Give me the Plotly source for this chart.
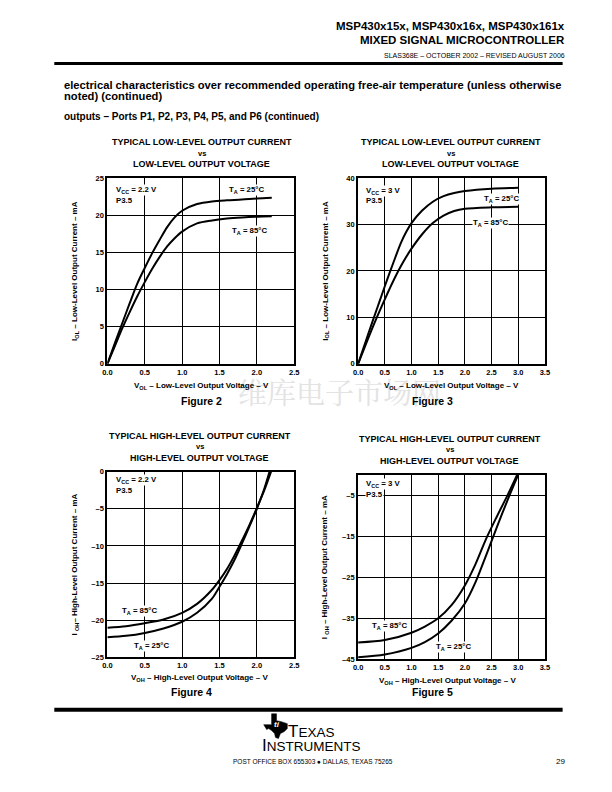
import plotly.graph_objects as go

# page is 612x792; browser body has an 8px margin, so the figure is drawn 16px smaller
OFF = 8
FW, FH = 612 - 2 * OFF, 792 - 2 * OFF

# ---------------- data ----------------
# Figure 2: VCC = 2.2 V, low-level output
f2_v_25 = [0, 0.1, 0.2, 0.3, 0.4, 0.5, 0.6, 0.7, 0.8, 0.9, 1.0, 1.2, 1.4, 1.6, 1.8, 2.0, 2.2]
f2_i_25 = [0, 2.8, 5.5, 8.2, 10.8, 12.9, 14.9, 16.7, 18.4, 19.7, 20.6, 21.5, 21.85, 22.0, 22.1, 22.25, 22.35]
f2_v_85 = [0, 0.1, 0.2, 0.3, 0.4, 0.5, 0.6, 0.7, 0.8, 0.9, 1.0, 1.2, 1.4, 1.6, 1.8, 2.0, 2.2]
f2_i_85 = [0, 2.4, 4.8, 7.0, 9.1, 11.0, 12.8, 14.4, 15.8, 16.9, 17.8, 18.9, 19.3, 19.55, 19.7, 19.8, 19.85]

# Figure 3: VCC = 3 V, low-level output
f3_v_25 = [0, 0.1, 0.2, 0.3, 0.4, 0.5, 0.6, 0.7, 0.8, 0.9, 1.0, 1.2, 1.4, 1.6, 1.8, 2.0, 2.5, 3.0]
f3_i_25 = [0, 3.4, 6.8, 10.1, 13.4, 16.7, 19.9, 23.0, 26.0, 28.4, 30.3, 33.0, 34.9, 36.1, 36.8, 37.2, 37.7, 37.9]
f3_v_85 = [0, 0.1, 0.2, 0.3, 0.4, 0.5, 0.6, 0.7, 0.8, 0.9, 1.0, 1.2, 1.4, 1.6, 1.8, 2.0, 2.5, 3.0]
f3_i_85 = [0, 2.9, 5.8, 8.6, 11.3, 13.9, 16.4, 18.8, 21.0, 23.0, 24.8, 27.9, 30.3, 31.9, 32.9, 33.4, 33.7, 33.8]

# Figure 4: VCC = 2.2 V, high-level output
f4_v_85 = [0, 0.25, 0.5, 0.75, 1.0, 1.2, 1.4, 1.5, 1.6, 1.7, 1.8, 1.9, 2.0, 2.1, 2.19]
f4_i_85 = [-21.0, -20.8, -20.4, -19.9, -19.0, -17.8, -15.9, -14.6, -13.1, -11.3, -9.3, -7.2, -4.9, -2.5, 0]
f4_v_25 = [0, 0.25, 0.5, 0.75, 1.0, 1.2, 1.4, 1.5, 1.6, 1.7, 1.8, 1.9, 2.0, 2.1, 2.17]
f4_i_25 = [-22.3, -22.1, -21.7, -21.1, -20.2, -19.0, -17.1, -15.5, -13.8, -11.9, -9.7, -7.4, -5.0, -2.3, 0]

# Figure 5: VCC = 3 V, high-level output
f5_v_85 = [0, 0.5, 1.0, 1.25, 1.5, 1.75, 2.0, 2.2, 2.4, 2.6, 2.8, 2.98]
f5_i_85 = [-40.9, -40.3, -38.5, -37.0, -35.0, -31.8, -27.0, -21.8, -15.6, -10.2, -5.0, 0]
f5_v_25 = [0, 0.5, 1.0, 1.25, 1.5, 1.75, 2.0, 2.2, 2.4, 2.6, 2.8, 3.0]
f5_i_25 = [-44.5, -43.8, -42.2, -40.8, -38.7, -35.6, -31.4, -26.2, -19.6, -12.8, -6.2, 0]

x_ticks_25 = [0, 0.5, 1.0, 1.5, 2.0, 2.5]
x_ticks_35 = [0, 0.5, 1.0, 1.5, 2.0, 2.5, 3.0, 3.5]
y_ticks_f2 = [0, 5, 10, 15, 20, 25]
y_ticks_f3 = [0, 10, 20, 30, 40]
y_ticks_f4 = [0, -5, -10, -15, -20, -25]
y_ticks_f5 = [-5, -15, -25, -35, -45]


def dash_label(v):
    return ("–" + str(abs(v))) if v < 0 else str(v)


# ---------------- helpers (page pixels -> paper fraction) ----------------
def px(x):
    return (x - OFF) / FW


def py(y):
    return 1 - (y - OFF) / FH


FONT = "Liberation Sans, Arial, sans-serif"

fig = go.Figure()

curves = [
    (f2_v_25, f2_i_25, "x", "y"), (f2_v_85, f2_i_85, "x", "y"),
    (f3_v_25, f3_i_25, "x2", "y2"), (f3_v_85, f3_i_85, "x2", "y2"),
    (f4_v_85, f4_i_85, "x3", "y3"), (f4_v_25, f4_i_25, "x3", "y3"),
    (f5_v_85, f5_i_85, "x4", "y4"), (f5_v_25, f5_i_25, "x4", "y4"),
]
for xs, ys, xa, ya in curves:
    fig.add_trace(go.Scatter(x=xs, y=ys, xaxis=xa, yaxis=ya, mode="lines",
                             line=dict(color="black", width=2, shape="spline", smoothing=0.8),
                             hoverinfo="skip", showlegend=False))

axis_common = dict(showgrid=True, gridcolor="black", gridwidth=1.2, showline=True,
                   linecolor="black", linewidth=2, mirror=True, ticks="",
                   zeroline=False, tickfont=dict(family=FONT, size=7.5, color="black", weight="bold"),
                   fixedrange=True)

dom_x_left = [px(104), px(294)]
dom_x_right = [px(359), px(549)]

layout_axes = dict(
    xaxis=dict(domain=dom_x_left, range=[0, 2.5], tickvals=x_ticks_25,
               ticktext=[f"{v:.1f}" for v in x_ticks_25], anchor="y", **axis_common),
    yaxis=dict(domain=[py(364), py(176)], range=[0, 25], tickvals=y_ticks_f2,
               ticktext=[dash_label(v) for v in y_ticks_f2], anchor="x", **axis_common),
    xaxis2=dict(domain=dom_x_right, range=[0, 3.5], tickvals=x_ticks_35,
                ticktext=[f"{v:.1f}" for v in x_ticks_35], anchor="y2", **axis_common),
    yaxis2=dict(domain=[py(364), py(176)], range=[0, 40], tickvals=y_ticks_f3,
                ticktext=[dash_label(v) for v in y_ticks_f3], anchor="x2", **axis_common),
    xaxis3=dict(domain=dom_x_left, range=[0, 2.5], tickvals=x_ticks_25,
                ticktext=[f"{v:.1f}" for v in x_ticks_25], anchor="y3", **axis_common),
    yaxis3=dict(domain=[py(661), py(473)], range=[-25, 0], tickvals=y_ticks_f4,
                ticktext=[dash_label(v) for v in y_ticks_f4], anchor="x3", **axis_common),
    xaxis4=dict(domain=dom_x_right, range=[0, 3.5], tickvals=x_ticks_35,
                ticktext=[f"{v:.1f}" for v in x_ticks_35], anchor="y4", **axis_common),
    yaxis4=dict(domain=[py(663), py(476)], range=[-45, 0], tickvals=y_ticks_f5,
                ticktext=[dash_label(v) for v in y_ticks_f5], anchor="x4", **axis_common),
)

annotations = []
PAD = 3  # annotation inner padding compensation


def text(x, y, s, size=7, bold=True, xanchor="center", yanchor="middle", angle=0,
         color="black", bg=None, family=FONT, align="center"):
    if xanchor == "left":
        x -= PAD
    elif xanchor == "right":
        x += PAD
    a = dict(x=px(x), y=py(y), xref="paper", yref="paper", text=s, showarrow=False,
             xanchor=xanchor, yanchor=yanchor, textangle=angle, align=align,
             font=dict(family=family, size=size, color=color, weight="bold" if bold else "normal"),
             borderpad=0)
    if bg:
        a["bgcolor"] = bg
    annotations.append(a)


# watermark
text(340, 392, "维库电子市场网", size=29, bold=False, color="#e3e3e3",
     family="Noto Serif CJK SC, Noto Sans CJK SC, sans-serif")

# header
text(567, 22, "MSP430x15x, MSP430x16x, MSP430x161x", size=11.5, xanchor="right")
text(567, 36, "MIXED SIGNAL MICROCONTROLLER", size=11.5, xanchor="right")
text(567, 52, "SLAS368E – OCTOBER 2002 – REVISED AUGUST 2006", size=7, bold=False, xanchor="right")
text(62, 82, "electrical characteristics over recommended operating free-air temperature (unless otherwise",
     size=11.2, xanchor="left")
text(62, 93, "noted) (continued)", size=11.2, xanchor="left")
text(62, 114, "outputs – Ports P1, P2, P3, P4, P5, and P6 (continued)", size=10, xanchor="left")

# chart titles
for cx, ys, t1, t2 in [(200, (140, 151, 162), "TYPICAL LOW-LEVEL OUTPUT CURRENT", "LOW-LEVEL OUTPUT VOLTAGE"),
                       (453, (140, 151, 162), "TYPICAL LOW-LEVEL OUTPUT CURRENT", "LOW-LEVEL OUTPUT VOLTAGE"),
                       (198, (437, 448, 459), "TYPICAL HIGH-LEVEL OUTPUT CURRENT", "HIGH-LEVEL OUTPUT VOLTAGE"),
                       (452, (440, 451, 462), "TYPICAL HIGH-LEVEL OUTPUT CURRENT", "HIGH-LEVEL OUTPUT VOLTAGE")]:
    text(cx, ys[0], t1, size=9)
    text(cx, ys[1], "vs", size=7.5)
    text(cx, ys[2], t2, size=9)

# axis titles
text(200, 386, "V<sub>OL</sub> – Low-Level Output Voltage – V", size=8)
text(454, 386, "V<sub>OL</sub> – Low-Level Output Voltage – V", size=8)
text(198, 682, "V<sub>OH</sub> – High-Level Output Voltage – V", size=8)
text(450, 685, "V<sub>OH</sub> – High-Level Output Voltage – V", size=8)

text(71, 270, "I<sub>OL</sub> – Low-Level Output Current – mA", size=8, angle=-90)
text(326, 270, "I<sub>OL</sub> – Low-Level Output Current – mA", size=8, angle=-90)
text(71, 567, "I <sub>OH</sub>– High-Level Output Current – mA", size=8, angle=-90)
text(326, 570, "I <sub>OH</sub> – High-Level Output Current – mA", size=8, angle=-90)

# figure captions
text(200, 402, "Figure 2", size=10.5)
text(435, 402, "Figure 3", size=10.5)
text(190, 696, "Figure 4", size=10.5)
text(435, 696, "Figure 5", size=10.5)

# in-plot labels
W_BG = "white"
LS = 7.8
text(115, 188, "V<sub>CC</sub> = 2.2 V", size=LS, xanchor="left", bg=W_BG)
text(115, 199, "P3.5", size=LS, xanchor="left", bg=W_BG)
text(230, 188, "T<sub>A</sub> = 25°C", size=LS, xanchor="left", bg=W_BG)
text(233, 230, "T<sub>A</sub> = 85°C", size=LS, xanchor="left", bg=W_BG)

text(369, 189, "V<sub>CC</sub> = 3 V", size=LS, xanchor="left", bg=W_BG)
text(369, 199, "P3.5", size=LS, xanchor="left", bg=W_BG)
text(489, 197, "T<sub>A</sub> = 25°C", size=LS, xanchor="left", bg=W_BG)
text(478, 221, "T<sub>A</sub> = 85°C", size=LS, xanchor="left", bg=W_BG)

text(115, 481, "V<sub>CC</sub> = 2.2 V", size=LS, xanchor="left", bg=W_BG)
text(115, 492, "P3.5", size=LS, xanchor="left", bg=W_BG)
text(121, 614, "T<sub>A</sub> = 85°C", size=LS, xanchor="left", bg=W_BG)
text(133, 649, "T<sub>A</sub> = 25°C", size=LS, xanchor="left", bg=W_BG)

text(369, 486, "V<sub>CC</sub> = 3 V", size=LS, xanchor="left", bg=W_BG)
text(369, 496, "P3.5", size=LS, xanchor="left", bg=W_BG)
text(375, 629, "T<sub>A</sub> = 85°C", size=LS, xanchor="left", bg=W_BG)
text(440, 650, "T<sub>A</sub> = 25°C", size=LS, xanchor="left", bg=W_BG)

# footer
text(290, 736, "T<span style='font-size:13.5px'>EXAS</span>", size=17, bold=False, xanchor="left")
text(263, 750, "I<span style='font-size:13.5px'>NSTRUMENTS</span>", size=17, bold=False, xanchor="left")
text(313, 766, "POST OFFICE BOX 655303 ● DALLAS, TEXAS 75265", size=6.5, bold=False)
text(567, 766, "29", size=8, bold=False, xanchor="right")
text(277, 729, "<i>ti</i>", size=8, color="white")

shapes = []
shapes.append(dict(type="rect", xref="paper", yref="paper", x0=px(50), x1=px(567), y0=py(61.5), y1=py(58.5),
                   fillcolor="black", line=dict(width=0)))
shapes.append(dict(type="rect", xref="paper", yref="paper", x0=px(50), x1=px(567), y0=py(716), y1=py(712),
                   fillcolor="black", line=dict(width=0)))

# Texas outline logo (page-pixel polygon)
tx = [(271, 718), (276, 718), (276, 725), (281, 726), (287, 728), (287, 733), (284, 736),
      (280, 738), (278, 743), (275, 742), (274, 738), (271, 735), (268, 733), (266, 734),
      (263, 729), (271, 729)]
path = "M " + " L ".join(f"{px(a):.5f},{py(b):.5f}" for a, b in tx) + " Z"
shapes.append(dict(type="path", xref="paper", yref="paper", path=path,
                   fillcolor="black", line=dict(color="black", width=0.5)))

fig.update_layout(
    width=FW, height=FH, margin=dict(l=0, r=0, t=0, b=0),
    paper_bgcolor="white", plot_bgcolor="white", showlegend=False,
    annotations=annotations, shapes=shapes,
    **layout_axes,
)

fig.write_html("out.html")
